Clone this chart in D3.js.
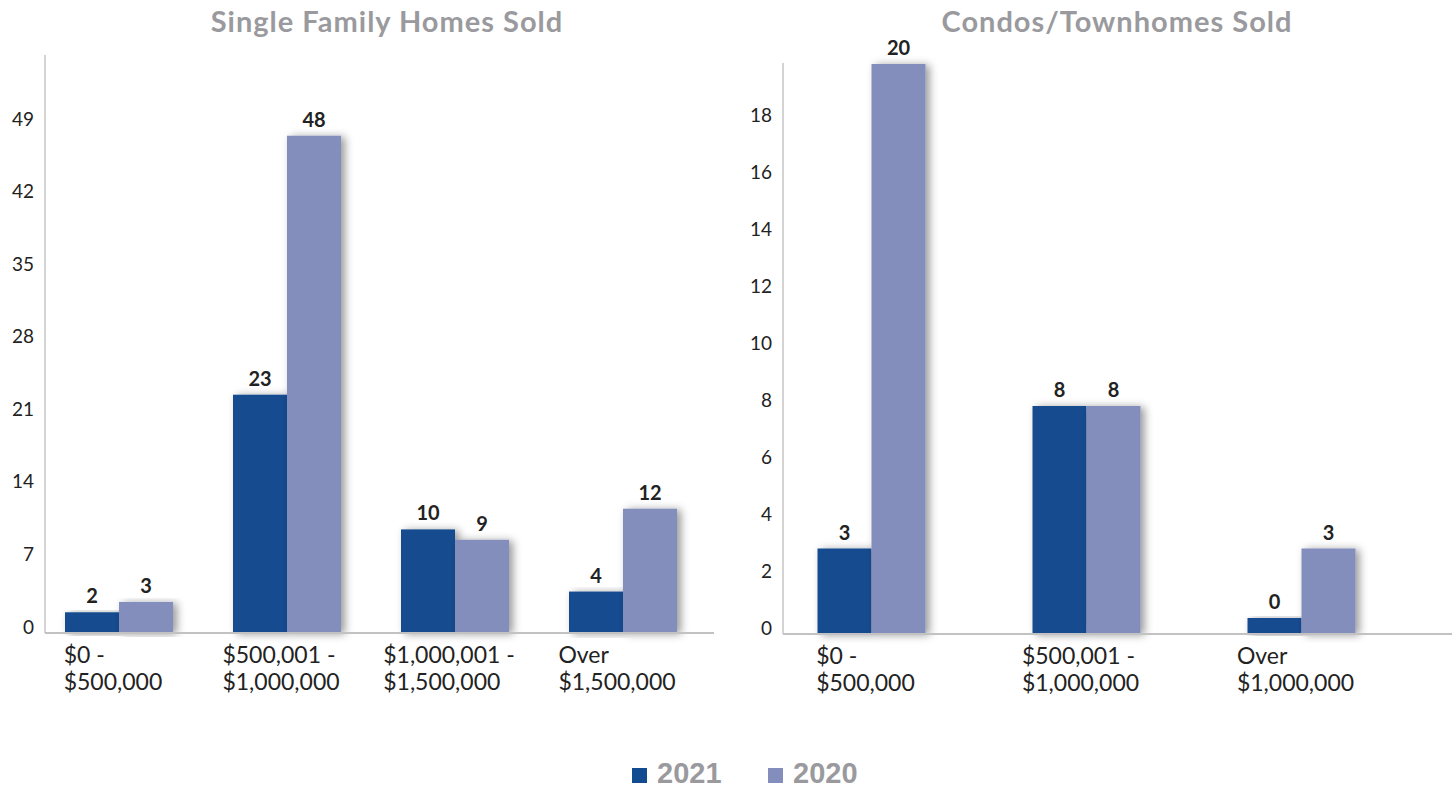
<!DOCTYPE html>
<html>
<head>
<meta charset="utf-8">
<script src="https://cdn.jsdelivr.net/npm/d3@7.9.0/dist/d3.min.js"></script>
<style>
  body { margin: 0; background: #fff; }
  svg { display: block; }
</style>
</head>
<body>
<svg id="chart" width="1452" height="788"></svg>
<script>
// data
const seriesNames = ["2021", "2020"];
const seriesColors = ["#124b90", "#838ebd"];

const sfhCategories = [["$0 -", "$500,000"], ["$500,001 -", "$1,000,000"], ["$1,000,001 -", "$1,500,000"], ["Over", "$1,500,000"]];
const sfh2021 = [2, 23, 10, 4];
const sfh2020 = [3, 48, 9, 12];
const sfhTicks = [0, 7, 14, 21, 28, 35, 42, 49];

const condoCategories = [["$0 -", "$500,000"], ["$500,001 -", "$1,000,000"], ["Over", "$1,000,000"]];
const condo2021 = [3, 8, 0];
const condo2020 = [20, 8, 3];
const condoTicks = [0, 2, 4, 6, 8, 10, 12, 14, 16, 18];

const svg = d3.select("#chart");
const font = "Lato, 'Open Sans', sans-serif";

// soft shadow behind bars
const defs = svg.append("defs");
defs.append("filter")
    .attr("id", "shadow")
    .attr("x", "-30%").attr("y", "-10%")
    .attr("width", "160%").attr("height", "120%")
    .append("feDropShadow")
    .attr("dx", 4).attr("dy", 1)
    .attr("stdDeviation", 4.5)
    .attr("flood-color", "#000")
    .attr("flood-opacity", 0.4);

function drawPanel({ title, titleX, categories, values, ticks, yMax, xRange, axisX, axisTop, axisRight, baseY, topY }) {
    const g = svg.append("g");

    const y = d3.scaleLinear().domain([0, yMax]).range([baseY, topY]);
    const x = d3.scaleBand().domain(d3.range(categories.length)).range(xRange).padding(0);
    const barW = 54;
    const xs = d3.scaleBand().domain(d3.range(seriesNames.length))
        .range([-barW, barW]).padding(0);

    // title
    g.append("text")
        .attr("x", titleX).attr("y", 32)
        .attr("text-anchor", "middle")
        .style("font-family", font)
        .style("font-weight", 700)
        .style("font-size", "29px")
        .style("letter-spacing", "1px")
        .attr("fill", "#9a9a9e")
        .text(title);

    // y axis
    const yAxis = g.append("g")
        .attr("transform", `translate(${axisX},0)`)
        .call(d3.axisLeft(y).tickValues(ticks).tickSize(0).tickPadding(11));
    yAxis.select(".domain").remove();
    yAxis.selectAll("text")
        .attr("dy", "-0.0em")
        .style("font-family", font)
        .style("font-size", "19px")
        .attr("fill", "#222");

    g.append("line")
        .attr("x1", axisX).attr("x2", axisX)
        .attr("y1", axisTop).attr("y2", baseY)
        .attr("stroke", "#c6c6c6").attr("stroke-width", 1.5);

    // bars
    const minStub = 16;
    const rows = [];
    categories.forEach((c, i) => {
        values.forEach((vals, s) => rows.push({ i, s, v: vals[i] }));
    });

    const barG = g.append("g");
    barG.selectAll("rect")
        .data(rows)
        .join("rect")
        .attr("x", d => x(d.i) + x.bandwidth() / 2 + xs(d.s))
        .attr("width", xs.bandwidth())
        .attr("y", d => Math.min(y(d.v), baseY - minStub))
        .attr("height", d => baseY - Math.min(y(d.v), baseY - minStub))
        .attr("fill", d => seriesColors[d.s])
        .attr("filter", "url(#shadow)");

    // value labels
    g.append("g").selectAll("text")
        .data(rows)
        .join("text")
        .attr("x", d => x(d.i) + x.bandwidth() / 2 + xs(d.s) + xs.bandwidth() / 2)
        .attr("y", d => Math.min(y(d.v), baseY - minStub) - 9)
        .attr("text-anchor", "middle")
        .style("font-family", font)
        .style("font-weight", 700)
        .style("font-size", "20px")
        .attr("fill", "#222")
        .text(d => d.v);

    // baseline
    g.append("line")
        .attr("x1", axisX).attr("x2", axisRight)
        .attr("y1", baseY).attr("y2", baseY)
        .attr("stroke", "#c2c2c2").attr("stroke-width", 2);

    // category labels: two lines, left aligned, block roughly centered on the group
    categories.forEach((lines, i) => {
        const t = g.append("text")
            .style("font-family", font)
            .style("font-size", "23px")
            .attr("fill", "#222");
        lines.forEach((line, k) => {
            t.append("tspan")
                .attr("y", baseY + 30 + k * 27)
                .text(line);
        });
        const widths = [];
        t.selectAll("tspan").each(function () { widths.push(this.getComputedTextLength()); });
        const left = x(i) + x.bandwidth() / 2 - d3.max(widths) / 2 - 6;
        t.selectAll("tspan").attr("x", left);
    });
}

drawPanel({
    title: "Single Family Homes Sold",
    titleX: 387,
    categories: sfhCategories,
    values: [sfh2021, sfh2020],
    ticks: sfhTicks,
    yMax: 49,
    xRange: [35, 707],
    axisX: 45,
    axisTop: 55,
    axisRight: 714,
    baseY: 633,
    topY: 633 - 49 * 10.36
});

drawPanel({
    title: "Condos/Townhomes Sold",
    titleX: 1117,
    categories: condoCategories,
    values: [condo2021, condo2020],
    ticks: condoTicks,
    yMax: 18,
    xRange: [764, 1409],
    axisX: 783,
    axisTop: 63,
    axisRight: 1452,
    baseY: 634,
    topY: 634 - 18 * 28.5
});

// legend
const legend = svg.append("g");
const legendX = [632, 768];
seriesNames.forEach((name, i) => {
    legend.append("rect")
        .attr("x", legendX[i]).attr("y", 768)
        .attr("width", 15).attr("height", 15)
        .attr("fill", seriesColors[i]);
    legend.append("text")
        .attr("x", legendX[i] + 25).attr("y", 783)
        .style("font-family", "'Liberation Sans', Arial, sans-serif")
        .style("font-weight", 700)
        .style("font-size", "29px")
        .attr("fill", "#9a9a9e")
        .text(name);
});
</script>
</body>
</html>
